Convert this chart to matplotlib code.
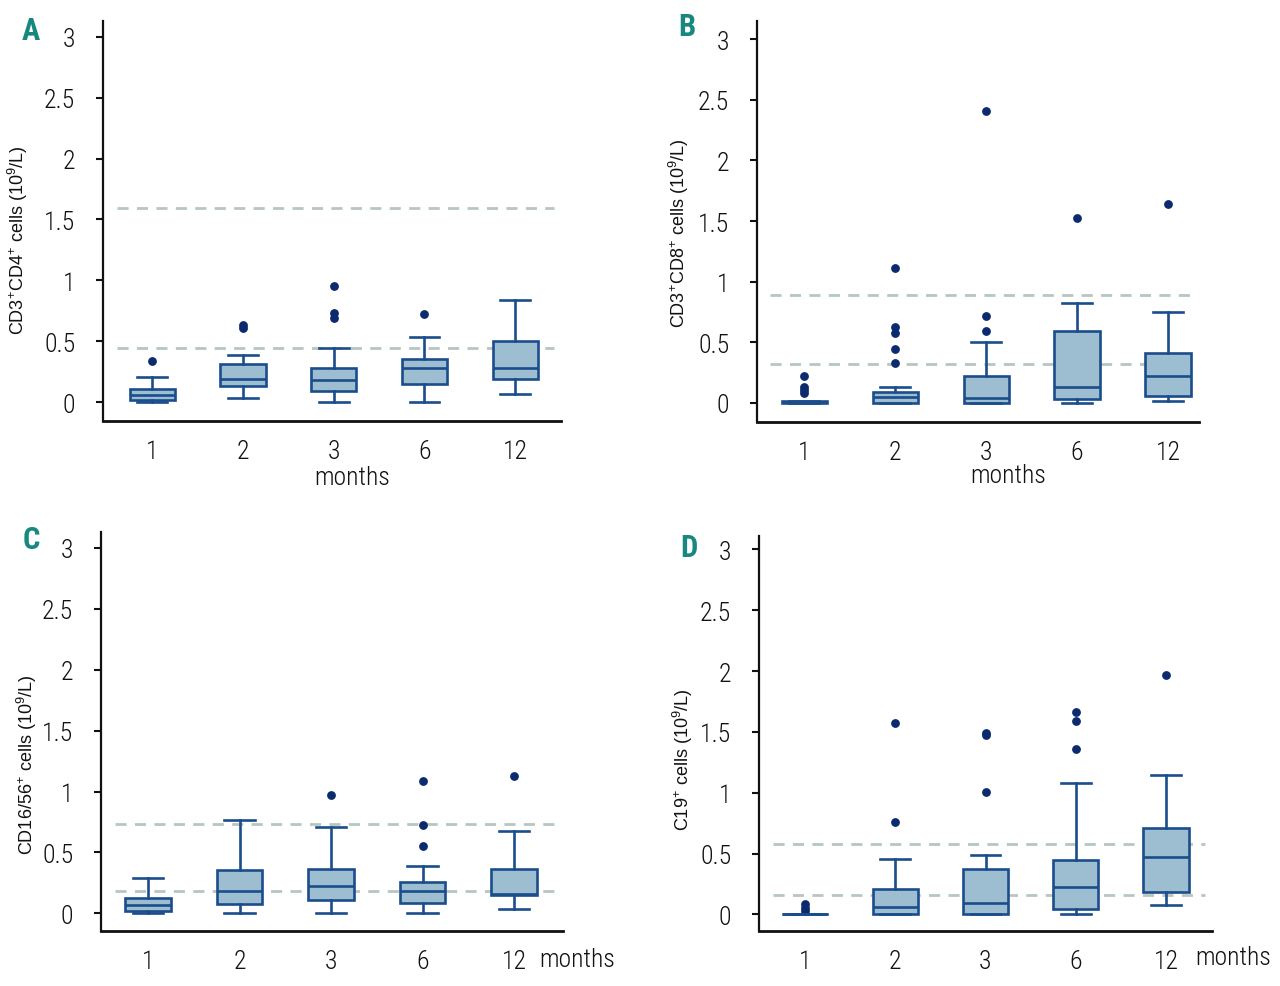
import matplotlib
matplotlib.use("Agg")
import matplotlib.pyplot as plt
from matplotlib import font_manager as fm

plt.rcParams['mathtext.fontset'] = 'custom'
plt.rcParams['mathtext.rm'] = 'Liberation Sans'
plt.rcParams['mathtext.it'] = 'Liberation Sans'

months = ['1', '2', '3', '6', '12']

# Panel A: CD3+CD4+
A_med = [0.057, 0.186, 0.18, 0.281, 0.281]
A_q1 = [0.014, 0.131, 0.09, 0.145, 0.186]
A_q3 = [0.104, 0.309, 0.276, 0.35, 0.5]
A_lo = [0.0, 0.036, 0.0, 0.0, 0.068]
A_hi = [0.205, 0.39, 0.445, 0.536, 0.836]
A_out = [[0.336], [0.61, 0.63], [0.956, 0.69, 0.73], [0.719], []]
A_ref = [1.59, 0.44]

# Panel B: CD3+CD8+
B_med = [0.005, 0.05, 0.044, 0.132, 0.222]
B_q1 = [0.0, 0.0, 0.0, 0.036, 0.055]
B_q3 = [0.015, 0.09, 0.22, 0.593, 0.412]
B_lo = [0.0, 0.0, 0.0, 0.0, 0.016]
B_hi = [0.02, 0.132, 0.502, 0.824, 0.749]
B_out = [[0.22, 0.13, 0.105, 0.08], [1.11, 0.63, 0.576, 0.447, 0.33],
         [2.405, 0.716, 0.593], [1.523], [1.644]]
B_ref = [0.89, 0.32]

# Panel C: CD16/56+
C_med = [0.068, 0.185, 0.224, 0.185, 0.158]
C_q1 = [0.019, 0.076, 0.109, 0.087, 0.15]
C_q3 = [0.128, 0.355, 0.368, 0.259, 0.368]
C_lo = [0.0, 0.0, 0.0, 0.0, 0.035]
C_hi = [0.286, 0.764, 0.709, 0.387, 0.674]
C_out = [[], [], [0.974], [1.085, 0.723, 0.551], [1.124]]
C_ref = [0.73, 0.18]

# Panel D: C19+
D_med = [0.0, 0.06, 0.096, 0.225, 0.471]
D_q1 = [0.0, 0.0, 0.0, 0.041, 0.186]
D_q3 = [0.0, 0.205, 0.37, 0.447, 0.707]
D_lo = [0.0, 0.0, 0.0, 0.0, 0.074]
D_hi = [0.0, 0.452, 0.485, 1.082, 1.142]
D_out = [[0.085, 0.05, 0.025], [1.57, 0.762], [1.49, 1.475, 1.005],
         [1.663, 1.589, 1.362], [1.967]]
D_ref = [0.575, 0.16]

yticks = [0, 0.5, 1, 1.5, 2, 2.5, 3]
ytick_labels = ['0', '0.5', '1', '1.5', '2', '2.5', '3']

EDGE = '#1b4d8c'
FILL = '#9dbdd1'
FLIER = '#0c2a6e'
REF = '#b7c6bf'
TEAL = '#17877f'


def find_narrow(target_weight):
    """Pick an installed condensed/narrow sans font file, if any."""
    prefs = ['Liberation Sans Narrow', 'Roboto Condensed', 'DejaVu Sans Condensed',
             'Noto Sans Condensed', 'Open Sans Condensed', 'Arial Narrow']
    cands = []
    for f in fm.fontManager.ttflist:
        nm = f.name
        fname = f.fname.lower()
        is_narrow = ('narrow' in nm.lower() or 'condensed' in nm.lower()
                     or 'condensed' in fname or 'narrow' in fname
                     or str(f.stretch) in ('condensed', 'semi-condensed'))
        if not is_narrow:
            continue
        if 'extra' in fname or 'ultra' in fname or 'semicondensed' in fname:
            continue
        if 'italic' in fname or 'oblique' in fname or str(f.style) != 'normal':
            continue
        if 'thin' in fname:
            continue
        w = f.weight if isinstance(f.weight, int) else (700 if 'bold' in str(f.weight) else 400)
        cands.append((f, w))
    if not cands:
        return None

    def score(item):
        f, w = item
        s = 0
        for i, p in enumerate(prefs):
            if p.lower() in f.name.lower() or p.lower().replace(' ', '') in f.fname.lower():
                s -= (len(prefs) - i) * 100
        s += abs(w - target_weight) / 10
        return s
    cands.sort(key=score)
    return cands[0][0].fname


narrow_reg = find_narrow(300)
narrow_bold = find_narrow(700)
if narrow_reg:
    FP_TICK = dict(fontproperties=fm.FontProperties(fname=narrow_reg, size=18.5))
    FP_MONTH = dict(fontproperties=fm.FontProperties(fname=narrow_reg, size=18.5))
else:
    FP_TICK = dict(family='DejaVu Sans', fontsize=16)
    FP_MONTH = dict(family='DejaVu Sans', fontsize=16)
if narrow_bold:
    FP_LET = dict(fontproperties=fm.FontProperties(fname=narrow_bold, size=22, weight='bold'))
else:
    FP_LET = dict(family='DejaVu Sans', fontsize=19, fontweight='bold')

panels = [
    dict(letter='A', med=A_med, q1=A_q1, q3=A_q3, lo=A_lo, hi=A_hi, out=A_out, ref=A_ref,
         ylabel=r'CD3$^{+}$CD4$^{+}$ cells (10$^{9}$/L)',
         rect=(103, 22, 561, 422), ylim=(-0.156, 3.13), xlim=(0.456, 5.505),
         letter_xy=(31, 31), months_xy=(352, 478), ylabel_x=18, ylabel_y=240),
    dict(letter='B', med=B_med, q1=B_q1, q3=B_q3, lo=B_lo, hi=B_hi, out=B_out, ref=B_ref,
         ylabel=r'CD3$^{+}$CD8$^{+}$ cells (10$^{9}$/L)',
         rect=(757, 22, 1199, 423), ylim=(-0.157, 3.15), xlim=(0.478, 5.34),
         letter_xy=(687, 27), months_xy=(1008, 476), ylabel_x=679, ylabel_y=233),
    dict(letter='C', med=C_med, q1=C_q1, q3=C_q3, lo=C_lo, hi=C_hi, out=C_out, ref=C_ref,
         ylabel=r'CD16/56$^{+}$ cells (10$^{9}$/L)',
         rect=(101, 533, 563, 932), ylim=(-0.145, 3.13), xlim=(0.486, 5.535),
         letter_xy=(31, 540), months_xy=(577, 960), ylabel_x=27, ylabel_y=765),
    dict(letter='D', med=D_med, q1=D_q1, q3=D_q3, lo=D_lo, hi=D_hi, out=D_out, ref=D_ref,
         ylabel=r'C19$^{+}$ cells (10$^{9}$/L)',
         rect=(759, 537, 1212, 932), ylim=(-0.137, 3.11), xlim=(0.49, 5.51),
         letter_xy=(689, 548), months_xy=(1233, 958), ylabel_x=683, ylabel_y=760),
]

W, H = 1280, 987
fig = plt.figure(figsize=(W / 100, H / 100), dpi=100)

for p in panels:
    x0, y0, x1, y1 = p['rect']
    ax = fig.add_axes([x0 / W, 1 - y1 / H, (x1 - x0) / W, (y1 - y0) / H])
    stats = []
    for i in range(5):
        stats.append(dict(med=p['med'][i], q1=p['q1'][i], q3=p['q3'][i],
                          whislo=p['lo'][i], whishi=p['hi'][i], fliers=p['out'][i],
                          label=months[i]))
    ax.bxp(stats, positions=[1, 2, 3, 4, 5], widths=0.5, patch_artist=True,
           boxprops=dict(facecolor=FILL, edgecolor=EDGE, linewidth=1.9),
           medianprops=dict(color=EDGE, linewidth=1.9),
           whiskerprops=dict(color=EDGE, linewidth=1.9),
           capprops=dict(color=EDGE, linewidth=1.9),
           capwidths=0.33,
           flierprops=dict(marker='o', markerfacecolor=FLIER, markeredgecolor=FLIER,
                           markersize=5.3))
    for r in p['ref']:
        ax.axhline(r, xmin=0.03, xmax=0.985, color=REF, linewidth=2.0,
                   linestyle=(0, (4, 3)), zorder=0.5)
    ax.set_xlim(*p['xlim'])
    ax.set_ylim(*p['ylim'])
    ax.set_yticks(yticks)
    ax.set_yticklabels(ytick_labels, **FP_TICK)
    ax.set_xticks([1, 2, 3, 4, 5])
    ax.set_xticklabels(months, **FP_TICK)
    ax.tick_params(axis='y', length=5, width=1.5, pad=15, colors='#111111')
    ax.tick_params(axis='x', length=0, pad=13, colors='#111111')
    for s in ['top', 'right']:
        ax.spines[s].set_visible(False)
    ax.spines['left'].set_linewidth(1.6)
    ax.spines['bottom'].set_linewidth(2.0)
    ax.spines['left'].set_color('#111111')
    ax.spines['bottom'].set_color('#111111')

    fig.text(p['letter_xy'][0] / W, 1 - p['letter_xy'][1] / H, p['letter'],
             color=TEAL, ha='center', va='center', **FP_LET)
    fig.text(p['months_xy'][0] / W, 1 - p['months_xy'][1] / H, 'months',
             color='#111111', ha='center', va='center', **FP_MONTH)
    fig.text(p['ylabel_x'] / W, 1 - p['ylabel_y'] / H, p['ylabel'],
             rotation=90, fontsize=13, family=['Liberation Sans', 'DejaVu Sans'],
             ha='center', va='center', color='#111111')

fig.savefig('out.png', dpi=100, facecolor='white')
